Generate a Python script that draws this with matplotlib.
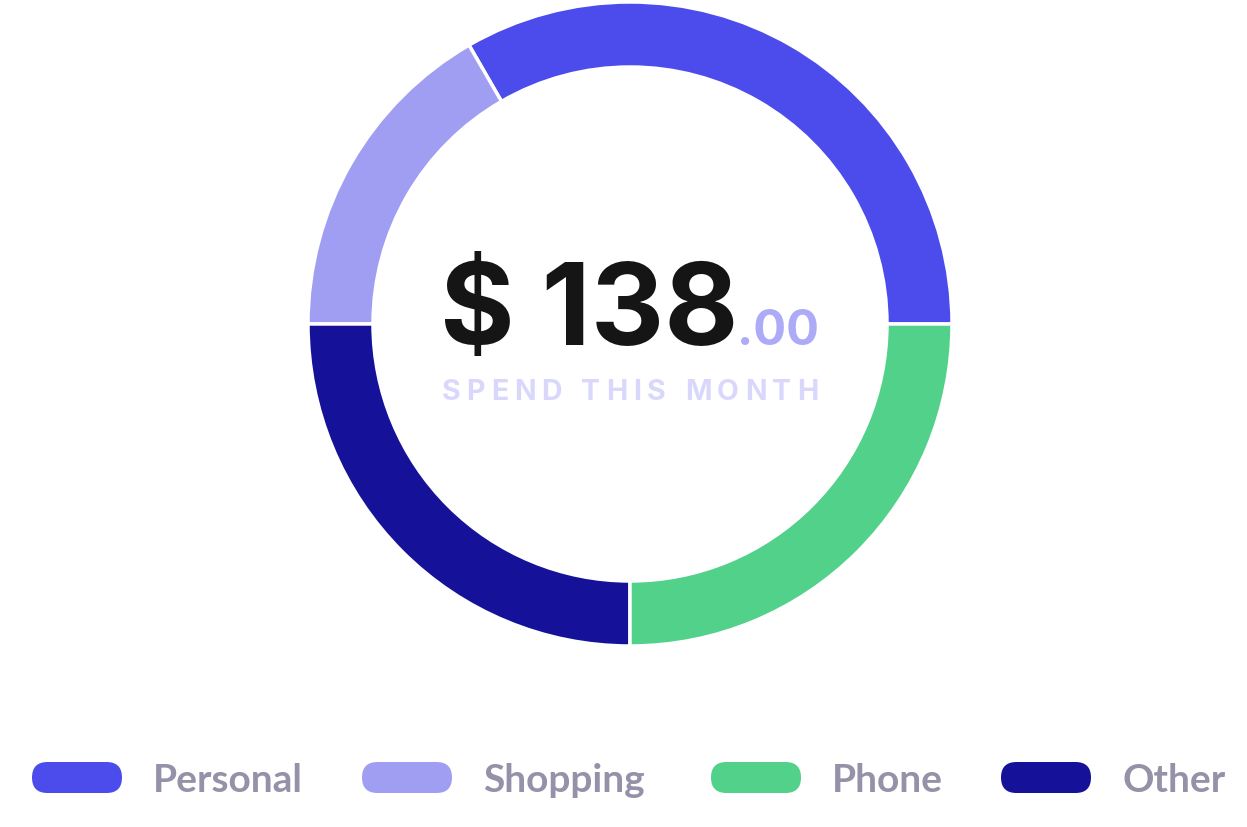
import matplotlib
matplotlib.use("Agg")
import matplotlib.pyplot as plt
from matplotlib.patches import FancyBboxPatch

# data
categories = ["Personal", "Shopping", "Phone", "Other"]
amounts = [46.0, 23.0, 34.5, 34.5]
colors = ["#4C4CED", "#A09EF3", "#51D18A", "#151299"]
ring_order = [0, 1, 3, 2]  # counter-clockwise from 3 o'clock
total_label = "$ 138"
cents_label = ".00"
subtitle = "SPEND THIS MONTH"

W, H = 1247, 827
fig = plt.figure(figsize=(W / 100, H / 100), dpi=100)

# donut
cx, cy, r_out, r_in = 630, 324, 322, 257
ax = fig.add_axes([(cx - r_out) / W, 1 - (cy + r_out) / H, 2 * r_out / W, 2 * r_out / H])
ax.pie([amounts[i] for i in ring_order],
       colors=[colors[i] for i in ring_order],
       startangle=0, counterclock=True, radius=1,
       wedgeprops=dict(width=(r_out - r_in) / r_out, edgecolor="white", linewidth=2.5))
ax.set_xlim(-1, 1)
ax.set_ylim(-1, 1)
ax.set_aspect("equal")
ax.axis("off")

# overlay in pixel coords
ov = fig.add_axes([0, 0, 1, 1])
ov.set_xlim(0, W)
ov.set_ylim(H, 0)
ov.axis("off")
ov.patch.set_alpha(0)

# center text
ov.text(440, 345, total_label, fontsize=82, fontweight="bold", family="Inter",
        color="#151515", ha="left", va="baseline")
ov.text(737, 345, cents_label, fontsize=35, fontweight="bold", family="Inter",
        color="#ADABF8", ha="left", va="baseline")

# letter-spaced subtitle
fig.canvas.draw()
rend = fig.canvas.get_renderer()
sub_kw = dict(fontsize=20.5, fontweight="bold", family="Inter", color="#D9D8FC")
widths = []
for ch in subtitle:
    t = ov.text(0, 0, ch if ch != " " else "n", **sub_kw)
    widths.append(t.get_window_extent(rend).width * (0.45 if ch == " " else 1))
    t.remove()
x0, x1 = 442, 818
gap = (x1 - x0 - sum(widths)) / (len(subtitle) - 1)
x = x0
for ch, w in zip(subtitle, widths):
    if ch != " ":
        ov.text(x, 400, ch, ha="left", va="baseline", **sub_kw)
    x += w + gap

# legend
pill_x = [32, 362, 711, 1001]
for i, name in enumerate(categories):
    px = pill_x[i]
    ov.add_patch(FancyBboxPatch((px, 762), 90, 31,
                                boxstyle="round,pad=0,rounding_size=15.5",
                                facecolor=colors[i], edgecolor="none"))
    ov.text(px + 121, 778, name, fontsize=28, fontweight="bold", family="Lato",
            color="#9591A8", ha="left", va="center_baseline")

fig.savefig("out.png", dpi=100)
